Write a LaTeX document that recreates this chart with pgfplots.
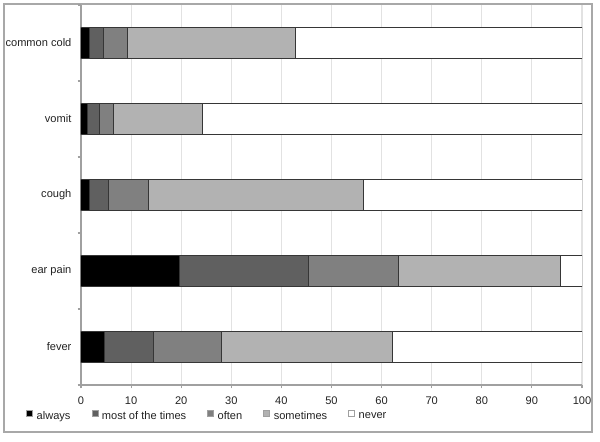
\documentclass[border=0pt]{standalone}
\usepackage{pgfplots}
\pgfplotsset{compat=1.18}
\usepackage{fontspec}
\setmainfont{Liberation Sans}
\definecolor{cAlways}{HTML}{000000}
\definecolor{cMost}{HTML}{606060}
\definecolor{cOften}{HTML}{808080}
\definecolor{cSome}{HTML}{B2B2B2}
\definecolor{cNever}{HTML}{FFFFFF}
\definecolor{barline}{HTML}{363636}
\definecolor{gridc}{HTML}{E2E2E2}
\definecolor{axisc}{HTML}{A0A0A0}
\definecolor{framec}{HTML}{A8A8A8}
\definecolor{txt}{HTML}{222222}
\begin{document}
\fontsize{8.3}{9.9}\selectfont
\begin{tikzpicture}
\useasboundingbox (0,0) rectangle (450pt,331.5pt);
\draw[framec, line width=0.9pt] (3pt,7.5pt) rectangle (444pt,328.5pt);
\begin{axis}[
  at={(60.75pt,42.75pt)}, anchor=south west,
  scale only axis, width=375.75pt, height=285pt,
  xbar stacked, bar width=0.408,
  xmin=0, xmax=100, ymin=-0.5, ymax=4.5,
  xtick={0,10,...,100},
  axis x line*=bottom, axis y line*=left,
  axis line style={axisc, line width=0.8pt, -},
  xmajorgrids, grid style={gridc, line width=0.8pt},
  tick align=outside, major tick length=2.5pt,
  tick style={axisc, line width=0.8pt},
  ytick={-0.5,0.5,1.5,2.5,3.5,4.5}, yticklabels={},
  extra y ticks={0,1,2,3,4},
  extra y tick labels={fever,ear pain,cough,vomit,common cold},
  extra y tick style={major tick length=0pt, tick style={draw=none},
    yticklabel style={inner sep=0pt, xshift=-7pt}},
  ticklabel style={font=\fontsize{8.3}{9.9}\selectfont, text=txt},
  xticklabel style={inner sep=0pt, yshift=-6.5pt},
  /pgf/number format/assume math mode=true,
  legend columns=5,
  legend style={at={(-0.1098,-0.0808)}, anchor=west, draw=none, fill=none,
    inner sep=0pt, font=\fontsize{8.3}{9.9}\selectfont, text=txt,
    nodes={inner sep=0pt},
    /tikz/every odd column/.append style={column sep=2.6pt},
    /tikz/every even column/.append style={column sep=15.8pt}},
  legend image code/.code={\draw[#1, draw=axisc, line width=0.6pt] (0pt,-0.3pt) rectangle (4.6pt,4.3pt);},
  every axis plot/.append style={draw=barline, line width=0.75pt},
]
\addplot[fill=cAlways] coordinates {(4.6,0) (19.7,1) (1.7,2) (1.3,3) (1.6,4)};
\addplot[fill=cMost] coordinates {(9.9,0) (25.7,1) (3.8,2) (2.4,3) (2.9,4)};
\addplot[fill=cOften] coordinates {(13.5,0) (18.0,1) (7.9,2) (2.8,3) (4.8,4)};
\addplot[fill=cSome] coordinates {(34.1,0) (32.4,1) (43.0,2) (17.8,3) (33.5,4)};
\addplot[fill=cNever] coordinates {(37.9,0) (4.2,1) (43.6,2) (75.7,3) (57.2,4)};
\legend{always,most of the times,often,sometimes,never}
\end{axis}
\end{tikzpicture}
\end{document}
